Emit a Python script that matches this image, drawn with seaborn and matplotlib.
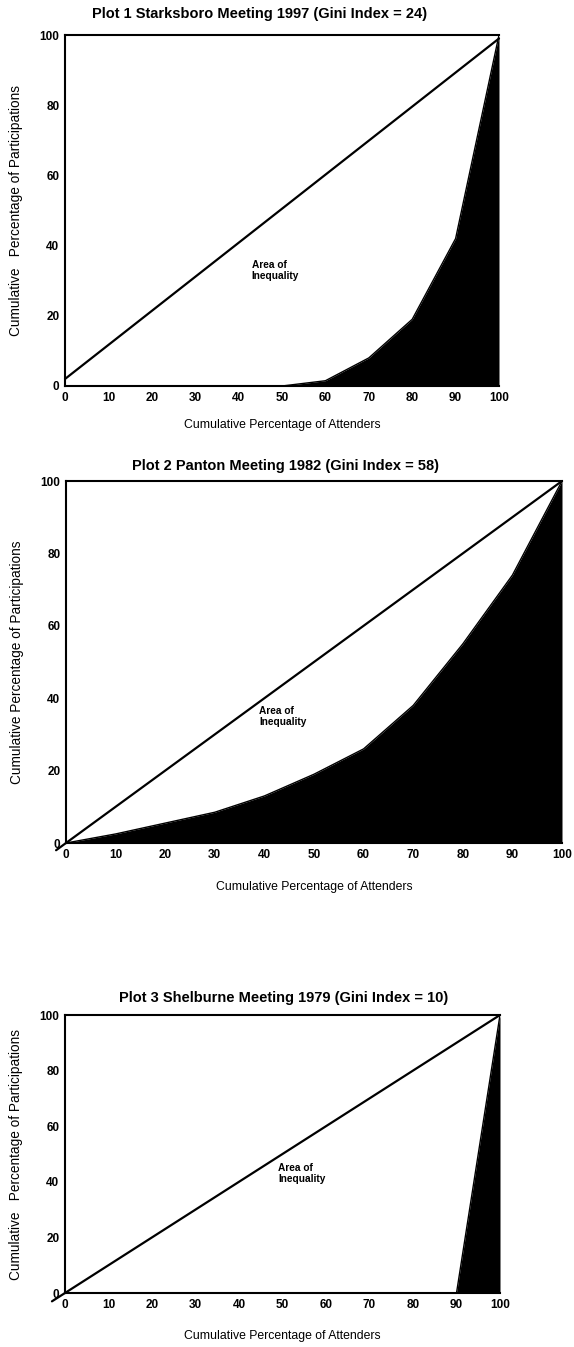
import matplotlib
matplotlib.use("Agg")
import matplotlib.pyplot as plt
import seaborn as sns
import pandas as pd

# Cumulative share of attenders (x) for every Lorenz curve
attenders = [0, 10, 20, 30, 40, 50, 60, 70, 80, 90, 100]

# Cumulative share of participations for each meeting
starksboro_1997 = [0, 0, 0, 0, 0, 0, 1.5, 8, 19, 42, 100]
panton_1982 = [0, 2.5, 5.5, 8.5, 13, 19, 26, 38, 55, 74, 100]
shelburne_1979 = [0, 0, 0, 0, 0, 0, 0, 0, 0, 0, 100]

# Line of perfect equality for each panel (end points)
starksboro_equal_x = [0, 100]
starksboro_equal_y = [2, 99]
panton_equal_x = [-2, 100]
panton_equal_y = [-2, 100]
shelburne_equal_x = [-3, 100]
shelburne_equal_y = [-3, 100]

titles = [
    "Plot 1 Starksboro Meeting 1997 (Gini Index = 24)",
    "Plot 2 Panton Meeting 1982 (Gini Index = 58)",
    "Plot 3 Shelburne Meeting 1979 (Gini Index = 10)",
]
ylabels = [
    "Cumulative   Percentage of Participations",
    "Cumulative Percentage of Participations",
    "Cumulative   Percentage of Participations",
]
xlabel = "Cumulative Percentage of Attenders"
area_label = "Area of\nInequality"
x_ticks = [0, 10, 20, 30, 40, 50, 60, 70, 80, 90, 100]
y_ticks = [0, 20, 40, 60, 80, 100]

sns.set_theme(style="white")
plt.rcParams["font.family"] = ["Liberation Sans", "DejaVu Sans"]
plt.rcParams.update({
    "text.color": "black",
    "axes.labelcolor": "black",
    "xtick.color": "black",
    "ytick.color": "black",
})

W, H = 574, 1347
fig = plt.figure(figsize=(W / 100, H / 100), dpi=100)


def frac_box(left, right, top, bottom):
    return [left / W, 1 - bottom / H, (right - left) / W, (bottom - top) / H]


panels = [
    dict(box=frac_box(65, 499, 35, 386), curve=starksboro_1997,
         eqx=starksboro_equal_x, eqy=starksboro_equal_y,
         title_xy=(260, 14), label_xy=(43, 33), xlabel_pad=11),
    dict(box=frac_box(66, 562, 481, 843), curve=panton_1982,
         eqx=panton_equal_x, eqy=panton_equal_y,
         title_xy=(286, 466), label_xy=(39, 35), xlabel_pad=15),
    dict(box=frac_box(65, 500, 1015, 1293), curve=shelburne_1979,
         eqx=shelburne_equal_x, eqy=shelburne_equal_y,
         title_xy=(284, 998), label_xy=(49, 43), xlabel_pad=14),
]

for i, p in enumerate(panels):
    ax = fig.add_axes(p["box"])
    df = pd.DataFrame({"attenders": attenders, "participations": p["curve"]})

    # Black area under the Lorenz curve
    ax.fill_between(df["attenders"], df["participations"], 0,
                    color="black", linewidth=0, zorder=2)
    sns.lineplot(data=df, x="attenders", y="participations", ax=ax,
                 color="black", linewidth=1.0, zorder=3)

    # Diagonal line of equality
    eq = pd.DataFrame({"x": p["eqx"], "y": p["eqy"]})
    sns.lineplot(data=eq, x="x", y="y", ax=ax, color="black",
                 linewidth=1.6, zorder=4, clip_on=False)

    ax.set_xlim(0, 100)
    ax.set_ylim(0, 100)
    ax.set_xticks(x_ticks)
    ax.set_yticks(y_ticks)
    ax.tick_params(axis="both", direction="inout", length=4, width=3,
                   color="black", labelsize=8.5, pad=2)
    for lab in ax.get_xticklabels() + ax.get_yticklabels():
        lab.set_fontweight("semibold")

    for side in ["left", "bottom", "top"]:
        ax.spines[side].set_visible(True)
        ax.spines[side].set_color("black")
        ax.spines[side].set_linewidth(1.5)
    ax.spines["right"].set_visible(False)

    ax.set_xlabel(xlabel, fontsize=8.8, labelpad=p["xlabel_pad"])
    ax.set_ylabel(ylabels[i], fontsize=9.8, labelpad=12)

    ax.text(p["label_xy"][0], p["label_xy"][1], area_label, fontsize=7.3,
            fontweight="semibold", ha="left", va="center", zorder=5,
            linespacing=1.15)

    fig.text(p["title_xy"][0] / W, 1 - p["title_xy"][1] / H, titles[i],
             fontsize=10.5, fontweight="bold", ha="center", va="center")

fig.savefig("out.png", dpi=100)
